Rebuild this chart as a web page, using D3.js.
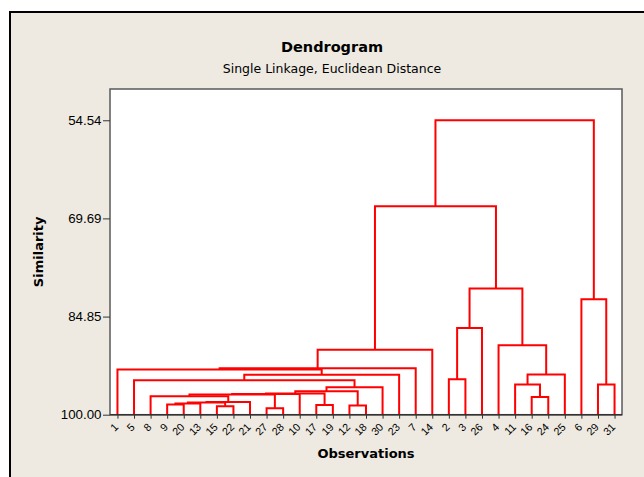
<!DOCTYPE html>
<html>
<head>
<meta charset="utf-8">
<script src="https://cdn.jsdelivr.net/npm/d3@7"></script>
<style>
  html, body { margin: 0; padding: 0; background: #ffffff; }
  svg { display: block; }
  text { font-family: "DejaVu Sans", Verdana, sans-serif; fill: #000; }
</style>
</head>
<body>
<script>
// ---- data ----
const title = "Dendrogram";
const subtitle = "Single Linkage, Euclidean Distance";
const xTitle = "Observations";
const yTitle = "Similarity";

// observations in dendrogram order
const leafLabels = ["1","5","8","9","20","13","15","22","21","27","28","10","17","19","12","18","30","23","7","14","2","3","26","4","11","16","24","25","6","29","31"];

// merge steps: left child, right child ("mN" = earlier merge N), similarity level
const mergeLeft  = ["27","15","12","17","9","m4","m5","m6","16","8","m9","m10","m11","m12","m13","11","29","5","2","m17","m15","1","m21","m22","4","m18","m25","6","m23","m28"];
const mergeRight = ["28","22","18","19","20","13","m1","21","24","m7","m0","10","m3","m2","30","m8","31","m14","3","23","25","m19","7","14","m20","26","m24","m16","m26","m27"];
const mergeSim   = [99.00,98.69,98.58,98.49,98.43,98.27,98.12,98.02,97.25,97.14,96.88,96.81,96.73,96.37,95.76,95.34,95.34,94.68,94.52,93.83,93.80,93.02,92.82,89.97,89.27,86.60,80.52,82.17,67.82,54.54];

const yTickValues = [54.54, 69.69, 84.85, 100.00];

// ---- layout ----
const W = 644, H = 477;
const plot = { left: 110, top: 89, right: 622, bottom: 414.7 };

const svg = d3.select("body").append("svg").attr("width", W).attr("height", H);

// outer frame
svg.append("rect").attr("x", 10).attr("y", 12).attr("width", 700).attr("height", 520)
  .attr("fill", "#EEEAE1").attr("stroke", "#000").attr("stroke-width", 2);

// plot area
svg.append("rect").attr("x", plot.left).attr("y", plot.top)
  .attr("width", plot.right - plot.left).attr("height", plot.bottom - plot.top)
  .attr("fill", "#ffffff").attr("stroke", "#5a5a5a").attr("stroke-width", 1.5);

const x = d3.scalePoint().domain(leafLabels).range([plot.left, plot.right]).padding(0.45);
const y = d3.scaleLinear().domain([100, 49.71]).range([plot.bottom, plot.top]);

// compute node positions
const pos = {};
leafLabels.forEach(l => { pos[l] = { x: x(l), s: 100 }; });
const segs = [];
mergeSim.forEach((s, i) => {
  const a = pos[mergeLeft[i]], b = pos[mergeRight[i]];
  segs.push({ ax: a.x, as: a.s, bx: b.x, bs: b.s, s: s });
  pos["m" + i] = { x: (a.x + b.x) / 2, s: s };
});

const g = svg.append("g");
g.selectAll("path.link").data(segs).enter().append("path")
  .attr("class", "link")
  .attr("d", d => {
    const p = d3.path();
    p.moveTo(d.ax, y(d.as));
    p.lineTo(d.ax, y(d.s));
    p.lineTo(d.bx, y(d.s));
    p.lineTo(d.bx, y(d.bs));
    return p.toString();
  })
  .attr("fill", "none").attr("stroke", "#ff0000").attr("stroke-width", 2)
  .attr("stroke-linejoin", "miter");

// y axis
const yAxis = d3.axisLeft(y).tickValues(yTickValues).tickFormat(d3.format(".2f"))
  .tickSize(7).tickSizeOuter(0).tickPadding(1.5);
const ya = svg.append("g").attr("transform", `translate(${plot.left},0)`).call(yAxis);
ya.select(".domain").remove();
ya.selectAll(".tick line").attr("stroke", "#333");
ya.selectAll(".tick text").style("font-size", "13.3px").style("font-family", "'Liberation Sans', Arial, sans-serif").attr("fill", "#000");

// x axis
const xAxis = d3.axisBottom(x).tickSize(4).tickSizeOuter(0);
const xa = svg.append("g").attr("transform", `translate(0,${plot.bottom})`).call(xAxis);
xa.select(".domain").attr("stroke", "#333").attr("stroke-width", 1.5).attr("d", `M${plot.left},0H${plot.right}`);
xa.selectAll(".tick line").attr("stroke", "#333");
xa.selectAll(".tick text")
  .style("font-size", "10.7px").style("font-family", "'Liberation Sans', Arial, sans-serif").attr("fill", "#000")
  .attr("text-anchor", "end").attr("dy", null).attr("y", null)
  .attr("transform", "translate(1,13) rotate(-45)");

// titles
svg.append("text").attr("x", 332).attr("y", 52).attr("text-anchor", "middle")
  .style("font-size", "14.5px").style("font-weight", "bold").text(title);
svg.append("text").attr("x", 332).attr("y", 73).attr("text-anchor", "middle")
  .style("font-size", "12.5px").text(subtitle);
svg.append("text").attr("x", (plot.left + plot.right) / 2).attr("y", 458).attr("text-anchor", "middle")
  .style("font-size", "13px").style("font-weight", "bold").text(xTitle);
svg.append("text").attr("transform", `translate(43,${(plot.top + plot.bottom) / 2}) rotate(-90)`)
  .attr("text-anchor", "middle")
  .style("font-size", "13px").style("font-weight", "bold").text(yTitle);
</script>
</body>
</html>
